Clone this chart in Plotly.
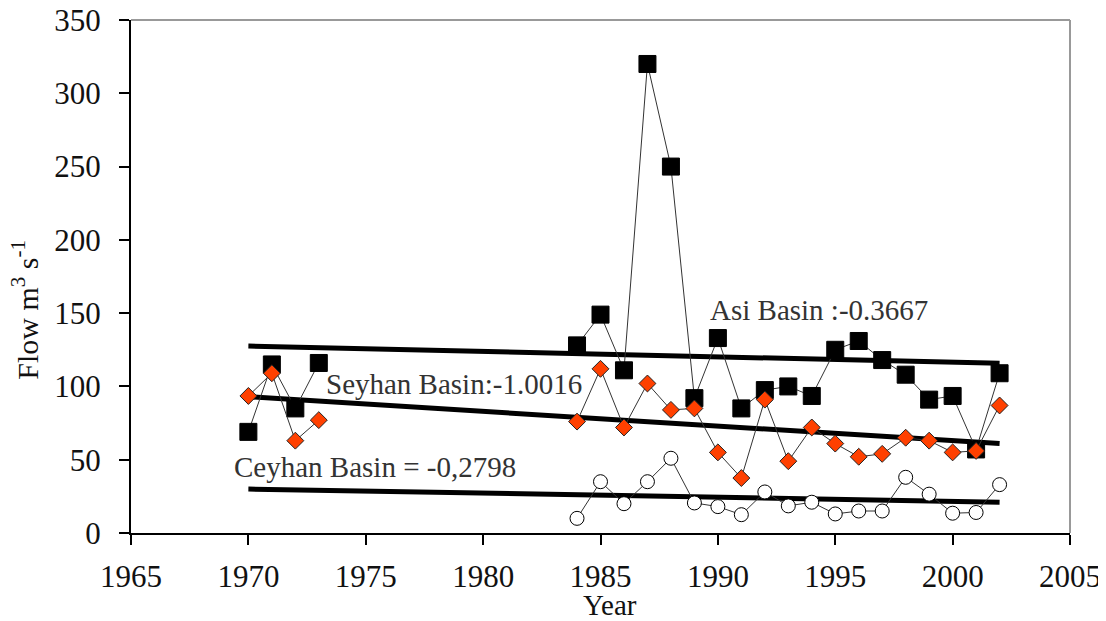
import plotly.graph_objects as go

years_early = [1970, 1971, 1972, 1973]
years_late = list(range(1984, 2003))

asi_early = [69, 115, 85, 116]
asi_late = [128, 149, 111, 320, 250, 92, 133, 85, 97.5, 100, 93.5, 125, 131, 118, 108, 91, 93.5, 57, 109]

seyhan_early = [93.5, 109, 63, 77]
seyhan_late = [76, 112, 72, 102, 84, 85, 55, 37.5, 91, 49, 72, 61, 52, 54, 65, 63, 55, 56, 87]

ceyhan_years = list(range(1984, 2003))
ceyhan = [10, 35, 20, 35, 51, 20.5, 18, 12.5, 28, 18.5, 21, 13, 15, 15, 38, 26.5, 13.5, 14, 33]

trend_years = [1970, 2002]
asi_trend = [127.5, 115.8]
seyhan_trend = [93, 61]
ceyhan_trend = [30, 21]

font = "Liberation Serif, Times New Roman, serif"
fig = go.Figure()

# trend lines first so markers sit on top
for trend in [asi_trend, seyhan_trend, ceyhan_trend]:
    fig.add_trace(go.Scatter(x=trend_years, y=trend, mode='lines',
                             line=dict(color='black', width=5), showlegend=False))

series = [
    (ceyhan_years, ceyhan, dict(symbol='circle', size=14, color='white', line=dict(color='black', width=1))),
    (years_early, asi_early, dict(symbol='square', size=17, color='black', line=dict(color='black', width=1))),
    (years_late, asi_late, dict(symbol='square', size=17, color='black', line=dict(color='black', width=1))),
    (years_early, seyhan_early, dict(symbol='diamond', size=13, color='#ff4000', line=dict(color='#222', width=1))),
    (years_late, seyhan_late, dict(symbol='diamond', size=13, color='#ff4000', line=dict(color='#222', width=1))),
]
for xs, ys, marker in series:
    fig.add_trace(go.Scatter(x=xs, y=ys, mode='lines+markers',
                             line=dict(color='#333', width=1), marker=marker, showlegend=False))

labels = [
    (1989.6, 152, "Asi Basin :-0.3667"),
    (1973.2, 102, "Seyhan Basin:-1.0016"),
    (1969.3, 45, "Ceyhan Basin = -0,2798"),
]
for x, y, text in labels:
    fig.add_annotation(x=x, y=y, text=text, showarrow=False, xanchor='left', yanchor='middle',
                       font=dict(family=font, size=29, color='#333'))

# axis titles
fig.add_annotation(x=0.51, y=-0.141, xref='paper', yref='paper', text='Year', showarrow=False,
                   xanchor='center', yanchor='middle', font=dict(family=font, size=29, color='#111'))
fig.add_annotation(x=-0.113, y=0.435, xref='paper', yref='paper', text='Flow m<sup>3</sup> s<sup>-1</sup>',
                   showarrow=False, textangle=-90, xanchor='center', yanchor='middle',
                   font=dict(family=font, size=30, color='#111'))

# grey top and right border
fig.add_shape(type='line', xref='paper', yref='paper', x0=0, x1=1, y0=1, y1=1,
              line=dict(color='#999', width=2))
fig.add_shape(type='line', xref='paper', yref='paper', x0=1, x1=1, y0=0, y1=1,
              line=dict(color='#999', width=2))

# page body has an 8px margin, so the figure is a bit smaller than the window
fig.update_layout(
    width=1098, height=613,
    margin=dict(l=123, r=36, t=12, b=88),
    plot_bgcolor='white', paper_bgcolor='white',
    font=dict(family=font, color='#111'),
    xaxis=dict(range=[1965, 2005], dtick=5, tick0=1965, showgrid=False, zeroline=False,
               showline=True, linecolor='black', linewidth=2, automargin=False,
               ticks='outside', ticklen=10, tickwidth=1.5, tickcolor='black',
               tickfont=dict(size=31), ticklabelstandoff=5, ticklabeloverflow='allow'),
    yaxis=dict(range=[0, 350], dtick=50, showgrid=False, zeroline=False,
               showline=True, linecolor='black', linewidth=2, automargin=False,
               ticks='outside', ticklen=10, tickwidth=1.5, tickcolor='black',
               tickfont=dict(size=31), ticklabelstandoff=12, ticklabeloverflow='allow'),
)

fig.write_html("out.html")
